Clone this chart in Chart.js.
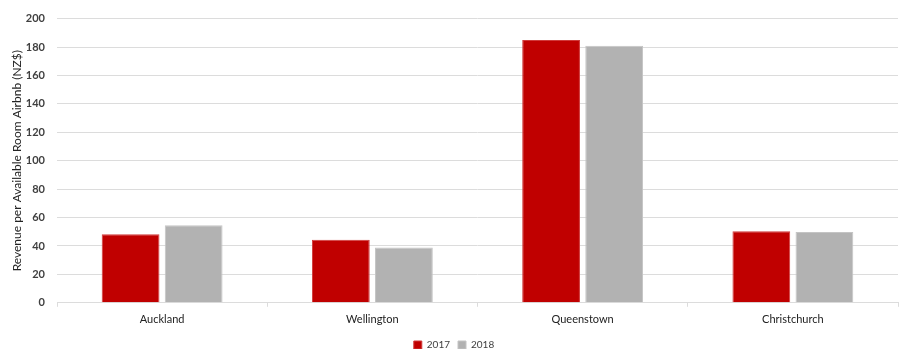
<!DOCTYPE html>
<html>
<head>
<meta charset="utf-8">
<script src="https://cdn.jsdelivr.net/npm/chart.js@4.4.1/dist/chart.umd.min.js"></script>
<style>
  html, body { margin: 0; padding: 0; background: #fff; }
  #wrap { width: 905px; height: 349px; }
</style>
</head>
<body>
<div id="wrap"><canvas id="revparChart"></canvas></div>
<script>
const cities = ['Auckland', 'Wellington', 'Queenstown', 'Christchurch'];
const rev2017 = [48.3, 44.3, 184.9, 50.4];
const rev2018 = [54.6, 39.0, 180.9, 49.8];
const yTicks = [0, 20, 40, 60, 80, 100, 120, 140, 160, 180, 200];

const fontFamily = 'Lato, "Open Sans", sans-serif';
const gridColor = '#dcdcdc';

const ctx = document.getElementById('revparChart').getContext('2d');
new Chart(ctx, {
  type: 'bar',
  data: {
    labels: cities,
    datasets: [{
      label: '2017',
      data: rev2017,
      backgroundColor: '#c00000',
      borderColor: '#d03a3a',
      borderWidth: 1,
      categoryPercentage: 0.6,
      barPercentage: 0.916
    }, {
      label: '2018',
      data: rev2018,
      backgroundColor: '#b2b2b2',
      borderColor: '#c4c4c4',
      borderWidth: 1,
      categoryPercentage: 0.6,
      barPercentage: 0.916
    }]
  },
  options: {
    responsive: true,
    maintainAspectRatio: false,
    animation: false,
    layout: {
      // legend sits very close to the bottom edge
      padding: { top: 12, right: 7, left: 10, bottom: -11 }
    },
    plugins: {
      legend: {
        position: 'bottom',
        labels: {
          boxWidth: 8,
          boxHeight: 8,
          padding: 8,
          color: '#404040',
          font: { family: fontFamily, size: 10 }
        }
      },
      tooltip: { enabled: false }
    },
    scales: {
      x: {
        grid: {
          offset: true,
          drawOnChartArea: false,
          tickLength: 4,
          color: gridColor
        },
        border: { color: gridColor },
        ticks: {
          color: '#222',
          padding: 6,
          font: { family: fontFamily, size: 11 }
        }
      },
      y: {
        min: 0,
        max: 200,
        afterBuildTicks: axis => {
          axis.ticks = yTicks.map(v => ({ value: v }));
        },
        afterFit: axis => {
          axis.width = 47;
        },
        grid: {
          color: gridColor,
          drawTicks: false
        },
        border: { display: false },
        ticks: {
          color: '#404040',
          padding: 12,
          font: { family: fontFamily, size: 11, weight: 'bold' }
        },
        title: {
          display: true,
          text: 'Revenue per Available Room Airbnb (NZ$)',
          color: '#222',
          padding: 0,
          font: { family: fontFamily, size: 12 }
        }
      }
    }
  }
});
</script>
</body>
</html>
